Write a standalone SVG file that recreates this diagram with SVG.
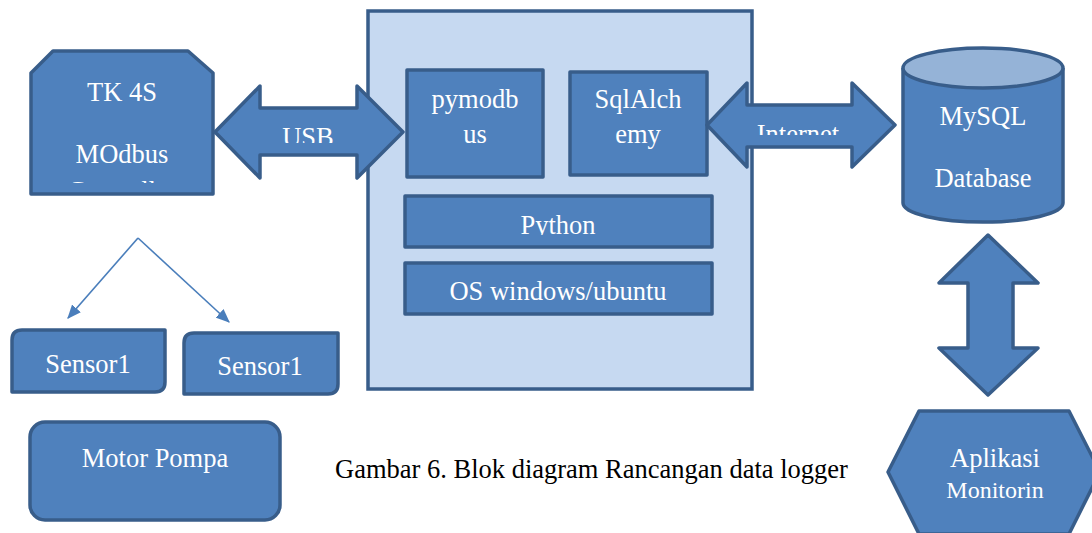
<svg xmlns="http://www.w3.org/2000/svg" width="1092" height="533" viewBox="0 0 1092 533">
<defs>
<style>
.blk{fill:#4F81BD;stroke:#385D8A;stroke-width:3.5;stroke-linejoin:round}
.wt{fill:#FFFFFF;font-family:"Liberation Serif","Times New Roman",serif;font-size:26.5px;text-anchor:middle}
.cap{fill:#000000;font-family:"Liberation Serif","Times New Roman",serif;font-size:26.5px}
.ln{stroke:#4A7EBB;stroke-width:1.6;fill:none}
</style>
<marker id="ah2" viewBox="0 0 12 10" refX="11" refY="5" markerWidth="14" markerHeight="12" markerUnits="userSpaceOnUse" orient="auto"><path d="M0,0 L12,5 L0,10 z" fill="#4A7EBB"/></marker>
<clipPath id="cTK"><rect x="30" y="50" width="185" height="133"/></clipPath>
<clipPath id="cUSB"><rect x="250" y="100" width="120" height="43"/></clipPath>
<clipPath id="cInt"><rect x="740" y="100" width="120" height="35"/></clipPath>
<clipPath id="cPy"><rect x="405" y="196" width="307" height="39"/></clipPath>
</defs>
<rect width="1092" height="533" fill="#FFFFFF"/>

<g id="pc">
<rect x="368" y="11" width="384" height="378" fill="#C6D9F1" stroke="#385D8A" stroke-width="3.5"/>
</g>

<g id="tk">
<path class="blk" d="M31,73 L53,51 L188,51 L213,73 L213,194 L31,194 Z"/>
<g clip-path="url(#cTK)">
<text class="wt" x="122" y="101">TK 4S</text>
<text class="wt" x="122" y="163">MOdbus</text>
<text class="wt" x="122" y="200">Controller</text>
</g>
</g>

<g id="pymodbus">
<rect class="blk" x="407" y="70" width="136" height="107"/>
<text class="wt" x="475" y="108">pymodb</text>
<text class="wt" x="475" y="143">us</text>
</g>

<g id="sqlalchemy">
<rect class="blk" x="570" y="72" width="137" height="103"/>
<text class="wt" x="638" y="108">SqlAlch</text>
<text class="wt" x="638" y="143">emy</text>
</g>

<g id="python">
<rect class="blk" x="405" y="196" width="307" height="51"/>
<text class="wt" x="558" y="234" clip-path="url(#cPy)">Python</text>
</g>

<g id="os">
<rect class="blk" x="405" y="263" width="307" height="51"/>
<text class="wt" x="558" y="300">OS windows/ubuntu</text>
</g>

<g id="mysql">
<path class="blk" d="M903,68 L903,203 A80,19 0 0 0 1063,203 L1063,68"/>
<ellipse cx="983" cy="68" rx="80" ry="20" fill="#95B3D7" stroke="#385D8A" stroke-width="3.5"/>
<text class="wt" x="983" y="125">MySQL</text>
<text class="wt" x="983" y="187">Database</text>
</g>

<g id="sensor1a">
<path class="blk" d="M22,330 L165,330 L165,382 Q165,392 155,392 L12,392 L12,340 Q12,330 22,330 Z"/>
<text class="wt" x="88" y="373">Sensor1</text>
</g>

<g id="sensor1b">
<path class="blk" d="M194,333 L338,333 L338,384 Q338,394 328,394 L184,394 L184,343 Q184,333 194,333 Z"/>
<text class="wt" x="260" y="375">Sensor1</text>
</g>

<g id="motor">
<rect class="blk" x="30" y="422" width="250" height="98" rx="15" ry="15"/>
<text class="wt" x="155" y="467">Motor Pompa</text>
</g>

<g id="aplikasi">
<path class="blk" d="M888,472 L919,411 L1069,411 L1100,472 L1069,534 L919,534 Z"/>
<text class="wt" x="995" y="467">Aplikasi</text>
<text class="wt" x="995" y="498" style="font-size:24px">Monitorin</text>
</g>

<g id="connectors">
<g id="usb">
<path class="blk" d="M215,132 L260,86 L260,108 L357,108 L357,86 L403,132 L357,178 L357,155 L260,155 L260,178 Z"/>
<text class="wt" x="308" y="146" clip-path="url(#cUSB)">USB</text>
</g>
<g id="internet">
<path class="blk" d="M707,125 L747,83 L747,105 L852,105 L852,83 L895,125 L852,167 L852,147 L747,147 L747,167 Z"/>
<text class="wt" x="798" y="143" clip-path="url(#cInt)">Internet</text>
</g>
<g id="dbapp">
<path class="blk" d="M988,235 L1038,283 L1013,283 L1013,348 L1038,348 L988,395 L939,348 L968,348 L968,283 L939,283 Z"/>
</g>
<line class="ln" x1="138" y1="238" x2="68" y2="318" marker-end="url(#ah2)"/>
<line class="ln" x1="138" y1="238" x2="229" y2="322" marker-end="url(#ah2)"/>
</g>

<text class="cap" x="335" y="478">Gambar 6. Blok diagram Rancangan data logger</text>
</svg>
